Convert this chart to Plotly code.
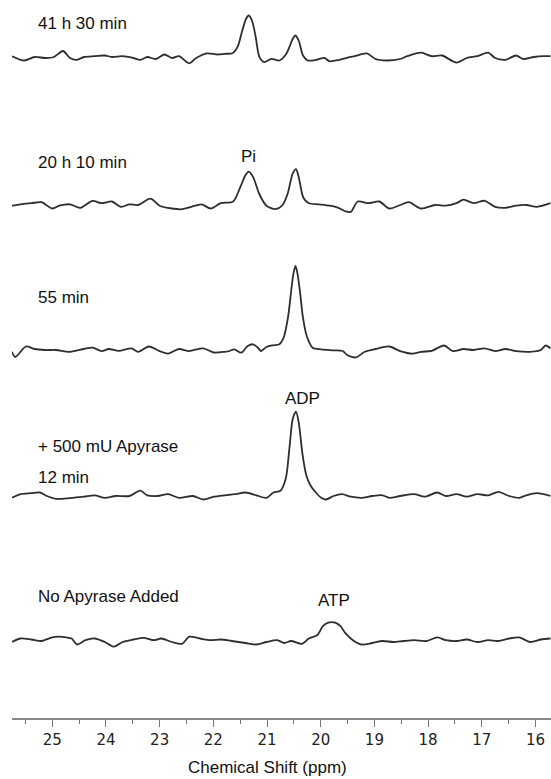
import plotly.graph_objects as go

# ---- data (chemical shift in ppm, intensity in arbitrary units) ----
ppm_A = [25.75, 25.52, 25.33, 25.13, 24.97, 24.80, 24.67, 24.54, 24.41, 24.21, 24.02, 23.89, 23.69, 23.49, 23.36, 23.23, 23.07, 22.91, 22.77, 22.64, 22.45, 22.32, 22.12, 21.92, 21.79, 21.64, 21.55, 21.46, 21.39, 21.34, 21.28, 21.21, 21.14, 21.05, 20.92, 20.77, 20.64, 20.52, 20.47, 20.41, 20.33, 20.24, 20.08, 19.93, 19.84, 19.65, 19.46, 19.37, 19.14, 18.98, 18.78, 18.52, 18.39, 18.13, 17.93, 17.74, 17.47, 17.28, 17.08, 16.88, 16.75, 16.56, 16.36, 16.23, 16.03, 15.84, 15.72]
int_A = [1.8, -2.5, 1, 0, 1, 7, 0, -1.8, 1, 1.8, 2.5, 1, 1.8, 0, -1.8, 1, -1, 3.5, 0, 1.8, -5.3, 0, 4.6, 3.5, 4.2, 4.8, 10.8, 27.5, 39.2, 42.5, 37.5, 20.8, 0.8, -4.2, -0.8, -2.5, 4.2, 19.2, 22.5, 17.5, 2.5, -2.5, -1.8, 0.2, -3.2, -1.8, 0.8, 1.8, 4.6, -1, -2.5, -1, 1.8, 5.3, 1.8, 2.5, -4.6, 0, 1.8, 5.3, 0, -1.8, 2.5, -1, 1, 1.8, 1.8]

ppm_B = [25.75, 25.59, 25.39, 25.20, 25.00, 24.87, 24.67, 24.48, 24.25, 24.08, 23.89, 23.72, 23.56, 23.40, 23.17, 23.00, 22.77, 22.58, 22.41, 22.22, 22.05, 21.86, 21.63, 21.50, 21.40, 21.34, 21.26, 21.14, 21.01, 20.84, 20.71, 20.62, 20.52, 20.46, 20.41, 20.32, 20.22, 20.03, 19.83, 19.67, 19.54, 19.44, 19.31, 19.11, 18.91, 18.72, 18.52, 18.36, 18.13, 17.87, 17.67, 17.47, 17.34, 17.15, 16.95, 16.75, 16.56, 16.36, 16.17, 15.97, 15.72]
int_B = [-0.7, 0.7, 1.8, 2.8, -3.5, -0.7, 0.7, -2.8, 4.2, 1.8, 3.5, -1.8, 0.7, 0, 6.3, -0.7, -3.5, -4.2, -1.8, 0.7, -3.5, 1.8, 3.5, 17.6, 29.9, 33.4, 28.1, 10.5, -0.7, -4.2, 0, 10.5, 31.6, 35.9, 28.1, 7, 1.8, 0.7, -0.7, -2.8, -6.3, -7, 3.5, 1.8, 3.5, -3.5, 0, 2.8, -3.5, 0, -0.7, 1.8, 5.3, 1.8, 4.2, -1.8, -2.8, -0.7, 0, -1.8, 1.8]

ppm_C = [25.75, 25.69, 25.49, 25.33, 25.13, 24.93, 24.67, 24.41, 24.25, 24.08, 23.95, 23.76, 23.53, 23.40, 23.20, 23.00, 22.84, 22.64, 22.45, 22.19, 21.99, 21.79, 21.70, 21.61, 21.48, 21.36, 21.26, 21.17, 21.11, 21.01, 20.89, 20.77, 20.69, 20.61, 20.55, 20.51, 20.47, 20.43, 20.38, 20.33, 20.26, 20.15, 19.99, 19.77, 19.59, 19.50, 19.34, 19.18, 18.98, 18.72, 18.52, 18.29, 18.13, 17.93, 17.70, 17.54, 17.34, 17.15, 16.95, 16.75, 16.56, 16.36, 16.10, 15.90, 15.81, 15.72]
int_C = [-2.8, -8, 2.5, 0, -1, -1, -2.8, 0, 1.4, -2.1, 0, -1.8, 0.7, -2.8, 2.5, -2.1, -4.6, 0, -2.1, 0.7, -3.5, -2.8, -2, -0.3, -3.7, 3, 4.7, 1.3, -2, 2, 3.7, 4.7, 11.3, 31.3, 58, 74.7, 83, 74.7, 54.7, 31.3, 13, 1.3, -0.3, -1.3, -2, -6.3, -8.4, -2.8, 0, 2.5, -2.1, -4.6, -2.8, -1.8, 3.5, -2.1, 0, -1, 0.7, -2.1, 0, -2.1, -2.8, -1, 3.5, 0.7]

ppm_D = [25.75, 25.59, 25.39, 25.23, 25.10, 24.93, 24.67, 24.41, 24.21, 24.02, 23.82, 23.56, 23.36, 23.23, 23.04, 22.84, 22.64, 22.38, 22.19, 21.99, 21.79, 21.60, 21.40, 21.20, 21.01, 20.88, 20.75, 20.65, 20.58, 20.52, 20.46, 20.41, 20.34, 20.27, 20.19, 20.09, 19.99, 19.90, 19.76, 19.60, 19.44, 19.24, 19.04, 18.85, 18.72, 18.52, 18.26, 18.06, 17.83, 17.67, 17.47, 17.28, 17.08, 16.88, 16.69, 16.49, 16.30, 16.17, 15.97, 15.72]
int_D = [-1.8, 1.8, 2.8, 3.5, 0, -2.8, -2.1, -0.7, 0.7, -1.8, 0, 0, 5.3, 0.7, 0, 1.8, -1.8, 0, -3.5, -0.7, 0.7, 1.8, 3.5, 0.7, -1.8, 3.5, 5.3, 17.6, 49.2, 77.3, 84.4, 73.8, 42.2, 21.1, 10.5, 3.5, -1.8, -3.5, 0, 1.8, -0.7, -1.8, 0, 0.7, -1.8, 0, 1.8, -0.7, 3.5, 0, 1.8, -0.7, 1.8, 0.7, 4.2, 0, -1.8, 0.7, 2.8, 0]

ppm_E = [25.75, 25.59, 25.39, 25.20, 25.00, 24.87, 24.74, 24.64, 24.54, 24.38, 24.21, 24.02, 23.85, 23.69, 23.49, 23.30, 23.10, 22.97, 22.77, 22.58, 22.45, 22.25, 22.05, 21.86, 21.66, 21.40, 21.20, 21.01, 20.81, 20.68, 20.55, 20.35, 20.22, 20.06, 19.96, 19.86, 19.73, 19.63, 19.54, 19.40, 19.24, 19.04, 18.85, 18.65, 18.46, 18.26, 18.03, 17.83, 17.67, 17.47, 17.28, 17.08, 16.88, 16.69, 16.49, 16.30, 16.10, 15.90, 15.72]
int_E = [0, 3.5, 2.5, 1, 4.6, 5.3, 4.6, 3.5, -2.5, 1.8, 3.5, 0, -4.6, 0, 2.5, 4.2, 1.8, 3.5, 0, -1.8, 5.3, 3.5, 1.8, 2.5, 1, -1, -2.5, 0, 1.8, -1, 1, -1.8, 3.5, 7, 15.8, 19.3, 19.3, 15.8, 8.8, 1.8, -2.5, -1, 1, 0, 1, 1.8, 1, 4.6, 1.8, 1, 2.5, 0, 1.8, 1, 3.5, 4.6, 0, 2.5, 3.5]

# vertical stacking offsets (top to bottom spectrum)
offsets = [660, 513, 369, 222, 76]

# spectrum labels (left side) and peak labels
labels = ["41 h 30 min", "20 h 10 min", "55 min", "+ 500 mU Apyrase", "12 min", "No Apyrase Added"]
label_y = [695, 556, 421, 272, 241, 122]
peak_labels = ["Pi", "ADP", "ATP"]
peak_x = [21.34, 20.33, 19.76]
peak_y = [562, 320, 118]

tick_vals = [25, 24, 23, 22, 21, 20, 19, 18, 17, 16]

spectra = [(ppm_A, int_A), (ppm_B, int_B), (ppm_C, int_C), (ppm_D, int_D), (ppm_E, int_E)]

fig = go.Figure()
for (px, iy), off in zip(spectra, offsets):
    fig.add_trace(go.Scatter(
        x=px, y=[off + v for v in iy], mode="lines",
        line=dict(color="#2e2e2e", width=1.8, shape="spline", smoothing=0.8),
        showlegend=False, hoverinfo="skip"))

lab_font = dict(family="Liberation Sans, Arial", size=17, color="#111")
ann = []
for t, yv in zip(labels, label_y):
    ann.append(dict(x=25.30, y=yv, xref="x", yref="y", text=t, showarrow=False,
                    xanchor="left", yanchor="middle", font=lab_font))
for t, xv, yv in zip(peak_labels, peak_x, peak_y):
    ann.append(dict(x=xv, y=yv, xref="x", yref="y", text=t, showarrow=False,
                    xanchor="center", yanchor="middle", font=lab_font))
ann.append(dict(x=21.0, y=-0.0696, xref="x", yref="paper", text="Chemical Shift (ppm)",
                showarrow=False, xanchor="center", yanchor="middle", font=lab_font))

fig.update_layout(
    width=551, height=779,
    margin=dict(l=12, r=0, t=0, b=61),
    paper_bgcolor="white", plot_bgcolor="white",
    annotations=ann,
    xaxis=dict(range=[25.75, 15.71], tickvals=tick_vals, ticks="outside", ticklen=7,
               tickcolor="#777", tickwidth=1.3, showline=True, linecolor="#888", linewidth=1.5,
               showgrid=False, zeroline=False,
               tickfont=dict(family="DejaVu Sans", size=15, color="#222"),
               minor=dict(dtick=0.5, tick0=16, ticks="outside", ticklen=4, tickcolor="#777",
                          tickwidth=1.3, showgrid=False)),
    yaxis=dict(range=[0, 718], visible=False, showgrid=False, zeroline=False),
)

# remove the default page margin so the figure fills the window exactly
fig.write_html("out.html",
               config={"displayModeBar": False},
               post_script="document.body.style.margin='0';document.body.style.overflow='hidden';")
